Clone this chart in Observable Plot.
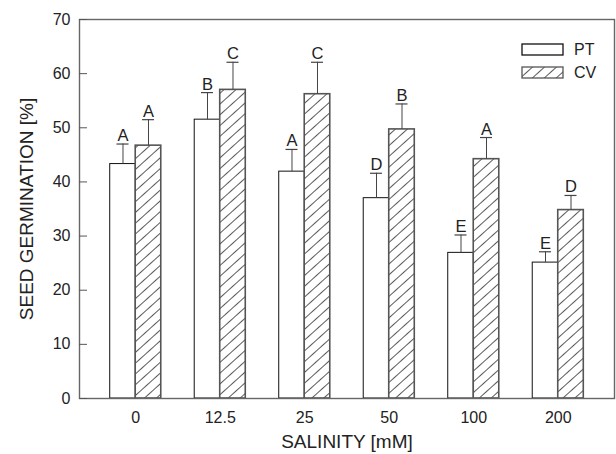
<!DOCTYPE html>
<html><head><meta charset="utf-8">
<script src="https://cdn.jsdelivr.net/npm/d3@7"></script>
<script src="https://cdn.jsdelivr.net/npm/@observablehq/plot@0.6"></script>
<style>
body{margin:0;background:#fff;}
#wrap{position:relative;width:616px;height:454px;font-family:"Liberation Sans",Arial,sans-serif;color:#222;}
#legend{position:absolute;left:521px;top:38px;font-size:16px;line-height:23px;}
#legend div{display:flex;align-items:center;height:23px;}
#legend svg{margin-right:10px;}
</style></head><body><div id="wrap"></div>
<script>
const salinity = ["0","12.5","25","50","100","200"];
const ptMean = [43.3,51.5,41.9,37.0,26.9,25.1];
const ptErr = [3.7,5.0,4.1,4.6,3.3,2.0];
const ptLetter = ["A","B","A","D","E","E"];
const cvMean = [46.7,57.0,56.2,49.7,44.2,34.8];
const cvErr = [4.8,5.1,5.9,4.7,4.0,2.7];
const cvLetter = ["A","C","C","B","A","D"];
const yTicks = [0,10,20,30,40,50,60,70];
const series = ["PT","CV"];
const xTitle = "SALINITY [mM]";
const yTitle = "SEED GERMINATION [%]";

const pt = salinity.map((s,i)=>({s, v:ptMean[i], e:ptErr[i], t:ptLetter[i], top:ptMean[i]+ptErr[i]}));
const cv = salinity.map((s,i)=>({s, v:cvMean[i], e:cvErr[i], t:cvLetter[i], top:cvMean[i]+cvErr[i]}));

const half = 25.5, q = 12.75, capHalf = 6;
const font = "'Liberation Sans', Arial, sans-serif";

const chart = Plot.plot({
  width: 616, height: 454,
  marginLeft: 79, marginRight: 2, marginTop: 19, marginBottom: 56,
  style: {fontFamily: font, fontSize: "16px", color: "#222", background: "#fff"},
  x: {domain: salinity, paddingInner: 0.396, paddingOuter: 0.3635, round: false, label: null},
  y: {domain: [0,70], label: null},
  marks: [
    Plot.barY(pt, {x:"s", y:"v", insetRight: half, fill:"#fff", stroke:"#111", strokeWidth:1}),
    Plot.barY(cv, {x:"s", y:"v", insetLeft: half, fill:"url(#hatch)", stroke:"#555", strokeWidth:1.6}),
    Plot.ruleX(pt, {x:"s", y1:"v", y2:"top", dx:-q, stroke:"#444", strokeWidth:1}),
    Plot.ruleX(cv, {x:"s", y1:"v", y2:"top", dx:q, stroke:"#444", strokeWidth:1}),
    Plot.tickY(pt, {x:"s", y:"top", insetLeft:q-capHalf, insetRight:2*half-q-capHalf, stroke:"#444", strokeWidth:1.2}),
    Plot.tickY(cv, {x:"s", y:"top", insetLeft:2*half-q-capHalf, insetRight:q-capHalf, stroke:"#444", strokeWidth:1.2}),
    Plot.text(pt, {x:"s", y:"top", text:"t", dx:-q, dy:-3, lineAnchor:"bottom", fontSize:16.5, fill:"#222"}),
    Plot.text(cv, {x:"s", y:"top", text:"t", dx:q, dy:-3, lineAnchor:"bottom", fontSize:16.5, fill:"#222"}),
    Plot.frame({stroke:"#666", strokeWidth:1.4}),
    Plot.axisY(yTicks, {tickSize:8, dx:8, tickFormat:()=>"", label:null, stroke:"#555"}),
    Plot.axisY(yTicks, {tickSize:0, tickPadding:9, label:null, fill:"#222"}),
    Plot.axisY([], {tickSize:0, tickFormat:()=>"", label:yTitle, labelAnchor:"center", labelArrow:"none", labelOffset:60, fontSize:19, fill:"#222"}),
    Plot.axisX(salinity, {tickSize:0, tickPadding:13, label:null, fill:"#222"}),
    Plot.axisX([], {tickSize:0, tickFormat:()=>"", label:xTitle, labelAnchor:"center", labelArrow:"none", labelOffset:49, fontSize:19, fill:"#222"})
  ]
});

const svg = d3.select(chart);
const defs = svg.insert("defs", ":first-child");
const pat = defs.append("pattern").attr("id","hatch").attr("patternUnits","userSpaceOnUse")
  .attr("width",8).attr("height",8).attr("patternTransform","rotate(48)");
pat.append("rect").attr("width",8).attr("height",8).attr("fill","#fff");
pat.append("line").attr("x1",0).attr("y1",0).attr("x2",0).attr("y2",8).attr("stroke","#000").attr("stroke-width",1.3);

const wrap = document.getElementById("wrap");
wrap.appendChild(chart);

const legend = document.createElement("div");
legend.id = "legend";
legend.innerHTML = series.map(s => `<div><svg width="43" height="13">
  <defs><pattern id="lh${s}" patternUnits="userSpaceOnUse" width="8" height="8" patternTransform="rotate(48)">
  <rect width="8" height="8" fill="#fff"/><line x1="0" y1="0" x2="0" y2="8" stroke="#000" stroke-width="1.3"/></pattern></defs>
  <rect x="1" y="1" width="41" height="11" fill="${s==="PT"?"#fff":"url(#lh"+s+")"}" stroke="${s==="PT"?"#111":"#555"}" stroke-width="1.3"/></svg><span>${s}</span></div>`).join("");
wrap.appendChild(legend);
</script></body></html>
